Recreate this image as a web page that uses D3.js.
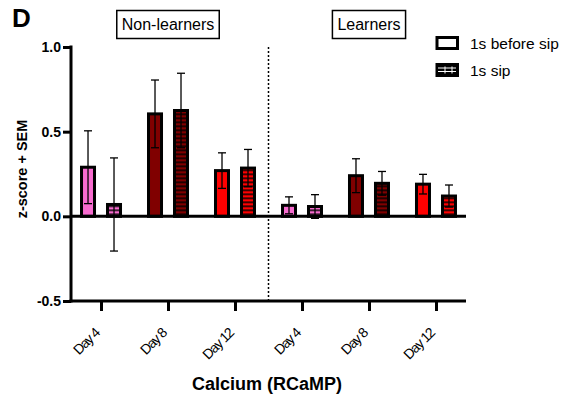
<!DOCTYPE html>
<html><head><meta charset="utf-8">
<script src="https://cdn.jsdelivr.net/npm/d3@7"></script>
<style>body{margin:0;background:#fff}svg{display:block;font-family:"Liberation Sans",Arial,sans-serif}</style>
</head><body><svg id="c" width="566" height="400"></svg>
<script>
const groups = ["Non-learners", "Learners"];
const categories = ["Day 4", "Day 8", "Day 12", "Day 4", "Day 8", "Day 12"];
const series = ["1s before sip", "1s sip"];
const beforeMean = [0.29, 0.605, 0.27, 0.065, 0.24, 0.19];
const beforeSem  = [0.215, 0.2, 0.105, 0.05, 0.1, 0.058];
const sipMean    = [0.07, 0.625, 0.285, 0.058, 0.195, 0.12];
const sipSem     = [0.275, 0.22, 0.11, 0.07, 0.07, 0.065];
const yTicks = [-0.5, 0.0, 0.5, 1.0];
const dayColors = ["#f76bcf", "#800000", "#ff0000"];

const svg = d3.select("#c");
const L = 71, R = 466, T = 47, B = 301;
const idx = categories.map((_, i) => i);
const x = d3.scalePoint().domain(idx).range([L, R]).padding(0.448);
const x1 = d3.scaleBand().domain(series).range([-19.5, 19.5]).paddingInner(0.5);
const y = d3.scaleLinear().domain([-0.5, 1.0]).range([B, T]);

// patterns for "1s sip"
const defs = svg.append("defs");
dayColors.forEach((c, i) => {
  const p = defs.append("pattern").attr("id", "pat" + i).attr("patternUnits", "userSpaceOnUse")
    .attr("width", 20).attr("height", 4).attr("y", y(0));
  p.append("rect").attr("width", 20).attr("height", 4).attr("fill", c);
  p.append("rect").attr("y", 1.25).attr("width", 20).attr("height", 1.5).attr("fill", "#000");
});

const rows = [];
idx.forEach(i => {
  rows.push({i, s: series[0], m: beforeMean[i], e: beforeSem[i], fill: dayColors[i % 3]});
  rows.push({i, s: series[1], m: sipMean[i], e: sipSem[i], fill: "url(#pat" + (i % 3) + ")"});
});

// bars
svg.append("g").selectAll("rect").data(rows).join("rect")
  .attr("x", d => x(d.i) + x1(d.s))
  .attr("width", x1.bandwidth())
  .attr("y", d => y(Math.max(0, d.m)))
  .attr("height", d => Math.abs(y(d.m) - y(0)))
  .attr("fill", d => d.fill)
  .attr("stroke", "#000").attr("stroke-width", 3);

// error bars
const eb = svg.append("g").attr("stroke", "#000").attr("stroke-width", 1.3);
rows.forEach(d => {
  const cx = x(d.i) + x1(d.s) + x1.bandwidth() / 2;
  eb.append("line").attr("x1", cx).attr("x2", cx).attr("y1", y(d.m - d.e)).attr("y2", y(d.m + d.e));
  [d.m - d.e, d.m + d.e].forEach(v => eb.append("line").attr("x1", cx - 4).attr("x2", cx + 4).attr("y1", y(v)).attr("y2", y(v)));
});

// zero line
svg.append("line").attr("x1", L).attr("x2", R).attr("y1", y(0)).attr("y2", y(0))
  .attr("stroke", "#000").attr("stroke-width", 3);

// dotted separator
const sepX = (x(2) + x(3)) / 2;
svg.append("line").attr("x1", sepX).attr("x2", sepX).attr("y1", T).attr("y2", B)
  .attr("stroke", "#000").attr("stroke-width", 1.5).attr("stroke-dasharray", "2,2");

// y axis
const ya = svg.append("g").attr("transform", `translate(${L},0)`)
  .call(d3.axisLeft(y).tickValues(yTicks).tickFormat(d3.format(".1f")).tickSize(8).tickSizeOuter(0));
ya.select(".domain").attr("stroke-width", 3).attr("d", `M0,${T - 1.5}V${B + 1.5}`);
ya.selectAll(".tick line").attr("stroke-width", 3);
ya.selectAll(".tick text").attr("x", -10).attr("font-size", 14).attr("font-weight", "bold")
  .attr("font-family", "Liberation Sans, Arial, sans-serif").attr("fill", "#000")
  .text(d => d < 0 ? "-" + d3.format(".1f")(-d) : d3.format(".1f")(d));

// x axis
const xa = svg.append("g").attr("transform", `translate(0,${B})`)
  .call(d3.axisBottom(x).tickSize(10).tickSizeOuter(0).tickFormat(i => categories[i]));
xa.select(".domain").attr("stroke-width", 3).attr("d", `M${L - 1.5},0H${R}`);
xa.selectAll(".tick line").attr("stroke-width", 3);
xa.selectAll(".tick text").attr("font-size", 14).attr("font-family", "Liberation Sans, Arial, sans-serif")
  .attr("fill", "#000").attr("letter-spacing", "-1.2")
  .attr("text-anchor", "end").attr("y", 0).attr("dy", 0)
  .attr("transform", "translate(-1,33) rotate(-45)");

// titles
svg.append("text").attr("x", 12).attr("y", 27).attr("font-size", 26).attr("font-weight", "bold").text("D");
svg.append("text").attr("transform", "translate(27,169) rotate(-90)").attr("text-anchor", "middle")
  .attr("font-size", 14.5).attr("font-weight", "bold").text("z-score + SEM");
svg.append("text").attr("x", 267).attr("y", 390).attr("text-anchor", "middle")
  .attr("font-size", 18).attr("font-weight", "bold").text("Calcium (RCaMP)");

// group labels
const gx = [(x(0) + x(2)) / 2, (x(3) + x(5)) / 2];
groups.forEach((g, k) => {
  const gg = svg.append("g");
  const box = gg.append("rect");
  const t = gg.append("text").attr("x", gx[k]).attr("y", 30).attr("text-anchor", "middle")
    .attr("font-size", 16).text(g);
  const bb = t.node().getBBox();
  box.attr("x", bb.x - 5).attr("y", 10.5).attr("width", bb.width + 10).attr("height", 28)
    .attr("fill", "#fff").attr("stroke", "#000").attr("stroke-width", 1.5);
});

// legend
const lg = svg.append("g");
series.forEach((s, k) => {
  const yy = 37.5 + k * 27;
  lg.append("rect").attr("x", 437).attr("y", yy).attr("width", 20.5).attr("height", 11)
    .attr("fill", k === 0 ? "#fff" : "#000").attr("stroke", "#000").attr("stroke-width", 3);
  if (k === 1) {
    [yy + 3.5, yy + 7].forEach(v => lg.append("line").attr("x1", 438).attr("x2", 456).attr("y1", v).attr("y2", v)
      .attr("stroke", "#fff").attr("stroke-width", 1));
    [445, 452].forEach(v => lg.append("line").attr("x1", v).attr("x2", v).attr("y1", yy + 2).attr("y2", yy + 9)
      .attr("stroke", "#fff").attr("stroke-width", 1));
  }
  lg.append("text").attr("x", 470).attr("y", 49 + k * 27).attr("font-size", 15.5).text(s);
});
</script></body></html>
